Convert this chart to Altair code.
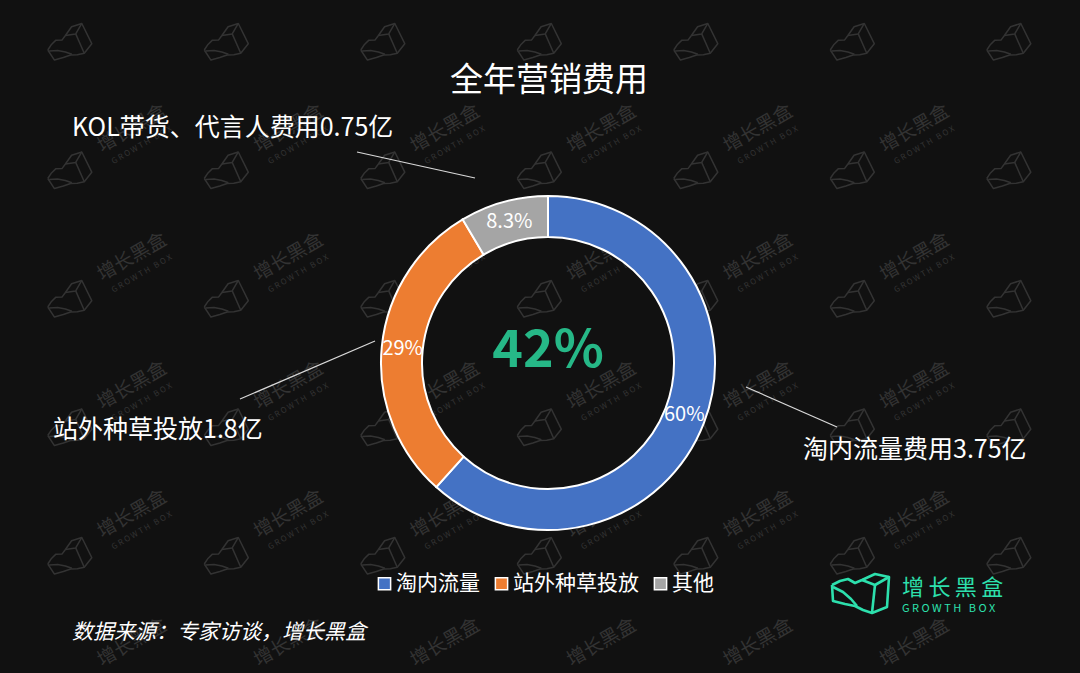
import math
import altair as alt
import pandas as pd
import jinja2

# ---------------- data ----------------
categories = ["淘内流量", "站外种草投放", "其他"]
shares = [60, 29, 8.3]
share_labels = ["60%", "29%", "8.3%"]
colors = ["#4472C4", "#ED7D31", "#A5A5A5"]

callout_texts = ["KOL带货、代言人费用0.75亿", "站外种草投放1.8亿", "淘内流量费用3.75亿"]
title_text = "全年营销费用"
center_text = "42%"
source_text = "数据来源：专家访谈，增长黑盒"
brand_cn = "增长黑盒"
brand_en = "GROWTH BOX"

# annotation placement (pixels in the view)
callout_x = [64, 45, 795]
callout_y = [120, 422, 442]
leader_x = [349, 232, 738]
leader_y = [144, 391, 379]
leader_x2 = [467, 367, 829]
leader_y2 = [170, 333, 419]

# logo outline (local pixel coordinates of the brand icon)
icon_paths = [
    [(7, 15), (15, 11), (23, 9), (30, 13), (37, 10), (50, 4), (64, 7), (62, 37),
     (47, 43), (38, 40), (30, 36), (20, 34), (8, 31), (7, 15)],
    [(37, 10), (50, 15), (64, 7)],
    [(50, 15), (47, 43)],
    [(8, 17), (18, 22), (26, 29), (32, 36)],
]
ICON_CENTER = (36, 24)

FONT = "Noto Sans CJK SC"
W, H = 1064, 657
CX, CY = 540, 355
BG = "#111111"
WM = "#333333"
GREEN = "#2DE0AD"


def spaced(s, sep):
    return sep.join(list(s))


# ---------------- watermark grid ----------------
wm_cols = [70 + 156.5 * k - 8 for k in range(-1, 7)]
wm_rows = [45 + 128.5 * j - 8 for j in range(0, 6)]
cos30, sin30 = math.cos(math.radians(30)), math.sin(math.radians(30))

wm_line_rows = []
wm_text_rows = []
wm_sub_rows = []
pid = 0
for cx in wm_cols:
    for cy in wm_rows:
        for path in icon_paths:
            for i, (px, py) in enumerate(path):
                vx = (px - ICON_CENTER[0]) * 0.75
                vy = (py - ICON_CENTER[1]) * 0.75
                wm_line_rows.append({
                    "x": cx + cos30 * vx + sin30 * vy,
                    "y": cy - sin30 * vx + cos30 * vy,
                    "pid": pid, "o": i,
                })
            pid += 1
        tx, ty = cx + 62, cy - 45
        if 35 < tx < W - 35 and 20 < ty < H - 20:
            wm_text_rows.append({"x": tx, "y": ty, "t": brand_cn})
        sx, sy = cx + 72, cy - 28
        if 35 < sx < W - 35 and 20 < sy < H - 20:
            wm_sub_rows.append({"x": sx, "y": sy, "t": spaced(brand_en, "\u00a0")})

wm_lines = alt.Chart(pd.DataFrame(wm_line_rows)).mark_line(
    color=WM, strokeWidth=1.5, strokeJoin="round"
).encode(
    x=alt.X("x:Q", scale=None, axis=None),
    y=alt.Y("y:Q", scale=None, axis=None),
    detail="pid:N",
    order="o:Q",
)
wm_text = alt.Chart(pd.DataFrame(wm_text_rows)).mark_text(
    font=FONT, fontSize=19, color=WM, align="center", baseline="middle"
).encode(
    x=alt.X("x:Q", scale=None, axis=None),
    y=alt.Y("y:Q", scale=None, axis=None),
    angle=alt.value(330),
    text="t:N",
)
wm_sub = alt.Chart(pd.DataFrame(wm_sub_rows)).mark_text(
    font=FONT, fontSize=8, color=WM, align="center", baseline="middle"
).encode(
    x=alt.X("x:Q", scale=None, axis=None),
    y=alt.Y("y:Q", scale=None, axis=None),
    angle=alt.value(330),
    text="t:N",
)

# ---------------- donut ----------------
pie_df = pd.DataFrame({
    "category": categories,
    "share": shares,
    "label": share_labels,
    "order": list(range(len(categories))),
})

color_scale = alt.Scale(domain=categories, range=colors)

base = alt.Chart(pie_df).encode(
    theta=alt.Theta("share:Q", stack=True),
    order=alt.Order("order:Q"),
)

arcs = base.mark_arc(
    outerRadius=167, innerRadius=126, stroke="white", strokeWidth=2
).encode(
    x=alt.value(CX),
    y=alt.value(CY),
    color=alt.Color(
        "category:N",
        scale=color_scale,
        sort=categories,
        legend=alt.Legend(
            title=None,
            orient="none",
            legendX=366,
            legendY=565,
            direction="horizontal",
            symbolType="square",
            symbolSize=150,
            symbolStrokeColor="white",
            symbolStrokeWidth=1.5,
            symbolOpacity=1,
            labelColor="white",
            labelFont=FONT,
            labelFontSize=21,
            labelOffset=1,
            columnPadding=11,
        ),
    ),
)

slice_text = base.mark_text(
    radius=146, font=FONT, fontSize=20, color="white"
).encode(
    x=alt.value(CX),
    y=alt.value(CY),
    text="label:N",
)

center = alt.Chart(pd.DataFrame({"t": [center_text]})).mark_text(
    font=FONT, fontSize=52, fontWeight="bold", color="#26B887",
    align="center", baseline="middle"
).encode(x=alt.value(CX), y=alt.value(343), text="t:N")

title = alt.Chart(pd.DataFrame({"t": [title_text]})).mark_text(
    font=FONT, fontSize=33, color="white", align="center", baseline="middle"
).encode(x=alt.value(541), y=alt.value(73), text="t:N")

callout_df = pd.DataFrame({
    "t": callout_texts, "x": callout_x, "y": callout_y,
})
callouts = alt.Chart(callout_df).mark_text(
    font=FONT, fontSize=25, color="white", align="left", baseline="middle"
).encode(
    x=alt.X("x:Q", scale=None, axis=None),
    y=alt.Y("y:Q", scale=None, axis=None),
    text="t:N",
)

leader_df = pd.DataFrame({
    "x": leader_x, "y": leader_y, "x2": leader_x2, "y2": leader_y2,
})
leaders = alt.Chart(leader_df).mark_rule(color="#D9D9D9", strokeWidth=1.2).encode(
    x=alt.X("x:Q", scale=None, axis=None),
    y=alt.Y("y:Q", scale=None, axis=None),
    x2="x2:Q",
    y2="y2:Q",
)

source = alt.Chart(pd.DataFrame({"t": [source_text]})).mark_text(
    font=FONT, fontSize=21, fontStyle="italic", color="white",
    align="left", baseline="middle"
).encode(x=alt.value(64), y=alt.value(625), text="t:N")

# brand logo (bottom right)
brand_line_rows = []
for k, path in enumerate(icon_paths):
    for i, (px, py) in enumerate(path):
        brand_line_rows.append({"x": 817 + px, "y": 562 + py, "pid": k, "o": i})
brand_icon = alt.Chart(pd.DataFrame(brand_line_rows)).mark_line(
    color=GREEN, strokeWidth=2.6, strokeJoin="round"
).encode(
    x=alt.X("x:Q", scale=None, axis=None),
    y=alt.Y("y:Q", scale=None, axis=None),
    detail="pid:N",
    order="o:Q",
)

brand1 = alt.Chart(pd.DataFrame({"t": [spaced(brand_cn, "\u2009")]})).mark_text(
    font=FONT, fontSize=22, color=GREEN, align="left", baseline="middle"
).encode(x=alt.value(894), y=alt.value(580), text="t:N")

brand2 = alt.Chart(pd.DataFrame({"t": [spaced(brand_en, "\u00a0")]})).mark_text(
    font=FONT, fontSize=11, color=GREEN, align="left", baseline="middle"
).encode(x=alt.value(894), y=alt.value(601), text="t:N")

chart = alt.layer(
    wm_lines, wm_text, wm_sub,
    arcs, slice_text, center, title, leaders, callouts, source,
    brand_icon, brand1, brand2,
).properties(
    width=W, height=H,
    autosize=alt.AutoSizeParams(type="none"),
    padding=0,
    background=BG,
).configure(font=FONT).configure_view(strokeWidth=0)

TEMPLATE = jinja2.Template("""<!DOCTYPE html>
<html>
<head>
<meta charset="utf-8">
<style>
  html, body { background: #111111; }
  #{{ output_div }}.vega-embed { width: 100%; display: flex; }
</style>
<script type="text/javascript" src="{{ base_url }}/vega@{{ vega_version }}"></script>
<script type="text/javascript" src="{{ base_url }}/vega-lite@{{ vegalite_version }}"></script>
<script type="text/javascript" src="{{ base_url }}/vega-embed@{{ vegaembed_version }}"></script>
</head>
<body>
<div id="{{ output_div }}"></div>
<script type="text/javascript">
  (function(vegaEmbed) {
    var spec = {{ spec }};
    var embedOpt = {{ embed_options }};
    vegaEmbed("#{{ output_div }}", spec, embedOpt).catch(function(err) {
      document.getElementById("{{ output_div }}").innerHTML = String(err);
    });
  })(vegaEmbed);
</script>
</body>
</html>
""")

chart.save("out.html", embed_options={"renderer": "svg", "actions": False}, template=TEMPLATE)
